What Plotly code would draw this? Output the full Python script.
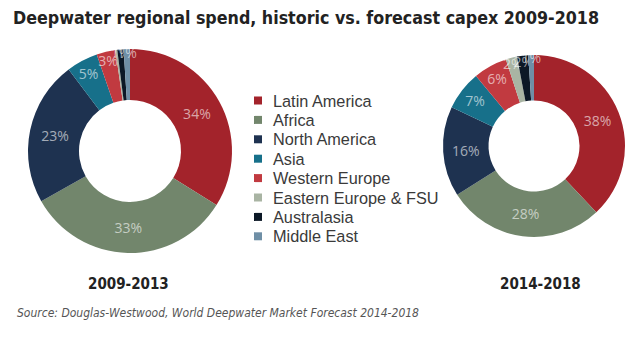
import plotly.graph_objects as go

regions = ["Latin America", "Africa", "North America", "Asia", "Western Europe",
           "Eastern Europe & FSU", "Australasia", "Middle East"]
share_2009_2013 = [34, 33, 23, 5, 3, 0.3, 1, 1]
share_2014_2018 = [38, 28, 16, 7, 6, 2, 2, 1]
colors = ["#a3232b", "#72866c", "#1e3250", "#17708a", "#c13a40",
          "#a9b4a3", "#0c1826", "#6f8fa6"]
period_labels = ["2009-2013", "2014-2018"]

COND = "DejaVu Sans Condensed"

def txt(vals):
    return [f"{v:.0f}%" if v >= 0.5 else "" for v in vals]

fig = go.Figure()
common = dict(
    labels=regions, hole=0.5, sort=False, direction="clockwise", rotation=0,
    marker=dict(colors=colors, line=dict(width=0)),
    textinfo="text", textposition="inside", insidetextorientation="horizontal",
    textfont=dict(family="Open Sans", size=14, color="rgba(255,255,255,0.6)"),
    hoverinfo="label+percent", showlegend=False,
)
fig.add_trace(go.Pie(values=share_2009_2013, text=txt(share_2009_2013),
                     domain=dict(x=[28/640, 232/640], y=[1-253/350, 1-49/350]),
                     **common))
fig.add_trace(go.Pie(values=share_2014_2018, text=txt(share_2014_2018),
                     domain=dict(x=[443/640, 625/640], y=[1-237/350, 1-55/350]),
                     **common))

# legend built from the regions / colors lists
annotations = []
shapes = []
y0, dy = 100.5, 19.4
for i, (name, col) in enumerate(zip(regions, colors)):
    yc = y0 + i * dy
    shapes.append(dict(type="rect", xref="paper", yref="paper",
                       x0=254/640, x1=262/640, y0=1-(yc+4)/350, y1=1-(yc-4)/350,
                       fillcolor=col, line=dict(width=0)))
    annotations.append(dict(text=name, x=271/640, y=1-yc/350, xref="paper", yref="paper",
                            showarrow=False, xanchor="left", yanchor="middle",
                            font=dict(family="Liberation Sans", size=16.3, color="#3a3a3a")))

annotations += [
    dict(text=f"<b>{period_labels[0]}</b>", x=128/640, y=1-284/350, xref="paper", yref="paper",
         showarrow=False, xanchor="center", yanchor="middle",
         font=dict(family=COND, size=15, color="#222")),
    dict(text=f"<b>{period_labels[1]}</b>", x=540/640, y=1-284/350, xref="paper", yref="paper",
         showarrow=False, xanchor="center", yanchor="middle",
         font=dict(family=COND, size=15, color="#222")),
    dict(text="<i>Source: Douglas-Westwood, World Deepwater Market Forecast 2014-2018</i>",
         x=15/640, y=1-313/350, xref="paper", yref="paper", showarrow=False,
         xanchor="left", yanchor="middle",
         font=dict(family=COND, size=12, color="#555")),
]

fig.update_layout(
    width=640, height=350, margin=dict(l=0, r=0, t=0, b=0),
    paper_bgcolor="white", plot_bgcolor="white",
    uniformtext=dict(minsize=14, mode="show"),
    title=dict(text="<b>Deepwater regional spend, historic vs. forecast capex 2009-2018</b>",
               x=13/640, xanchor="left", y=1-18/350, yanchor="middle",
               font=dict(family=COND, size=17.7, color="#222")),
    showlegend=False,
    annotations=annotations, shapes=shapes,
)
fig.write_html("out.html")
